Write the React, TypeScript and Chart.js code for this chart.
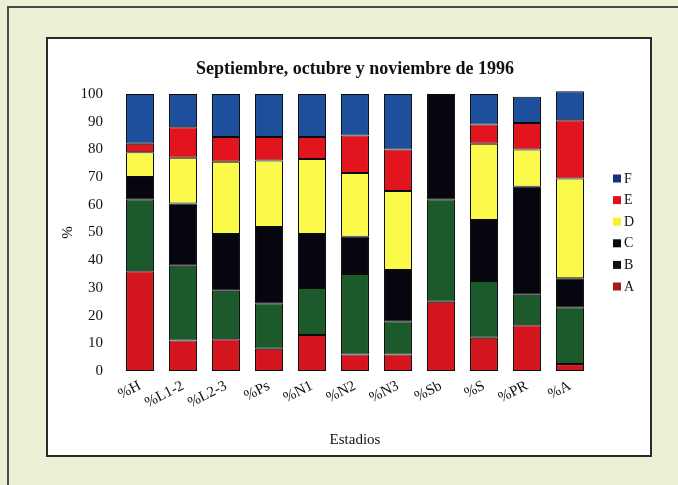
import React, { useEffect, useRef } from "react";
import { Chart, registerables } from "chart.js";

Chart.register(...registerables);

const TITLE = "Septiembre, octubre y noviembre de 1996";
const X_TITLE = "Estadios";
const Y_TITLE = "%";
const categories = ["%H", "%L1-2", "%L2-3", "%Ps", "%N1", "%N2", "%N3", "%Sb", "%S", "%PR", "%A"];
const seriesNames = ["A", "B", "C", "D", "E", "F"];
const valuesA = [36, 11, 11.5, 8, 13, 6, 6, 25, 12, 16.5, 2.5];
const valuesB = [26, 27, 17.5, 16.5, 17, 29, 12, 37, 20.5, 11, 20.5];
const valuesC = [8, 22.5, 20.5, 27.5, 19.5, 13.5, 18.5, 38, 22, 39, 10.5];
const valuesD = [9, 16.5, 26, 24, 27, 23, 28.5, null, 27.5, 13.5, 36];
const valuesE = [3, 11, 9, 8.5, 8, 13.5, 15, null, 7, 9.5, 21];
const valuesF = [18, 12, 15.5, 15.5, 15.5, 15, 20, null, 11, 9.5, 10.5];
const yTicks = [0, 10, 20, 30, 40, 50, 60, 70, 80, 90, 100];

const barColors = ["#d3161e", "#1c5a2c", "#06060f", "#fbf94a", "#e2141e", "#1d4f9c"];
const legendColors = ["#a81a1a", "#0c140e", "#0a0a0a", "#f6f030", "#e0101c", "#1a2e82"];

const FONT = '"Liberation Serif", "Times New Roman", serif';

const overlay = {
  id: "overlay",
  afterDraw(chart: any) {
    const { ctx, chartArea } = chart;
    ctx.save();
    ctx.fillStyle = "#111";
    ctx.font = `bold 18px ${FONT}`;
    ctx.textAlign = "center";
    ctx.textBaseline = "middle";
    ctx.fillText(TITLE, (chartArea.left + chartArea.right) / 2, chartArea.top - 25);

    const spacing = 21.6;
    const cy = (chartArea.top + chartArea.bottom) / 2;
    const n = seriesNames.length;
    const x0 = chartArea.right + 21.5;
    ctx.font = `14px ${FONT}`;
    ctx.textAlign = "left";
    for (let k = 0; k < n; k++) {
      const i = n - 1 - k;
      const y = cy - ((n - 1) / 2) * spacing + k * spacing;
      ctx.fillStyle = legendColors[i];
      ctx.fillRect(x0, y - 4, 8, 8);
      ctx.fillStyle = "#111";
      ctx.fillText(seriesNames[i], x0 + 11, y + 0.5);
    }
    ctx.restore();
  },
};

export default function App() {
  const ref = useRef<HTMLCanvasElement | null>(null);
  useEffect(() => {
    if (!ref.current) return;
    const all = [valuesA, valuesB, valuesC, valuesD, valuesE, valuesF];
    const chart = new Chart(ref.current, {
      type: "bar",
      data: {
        labels: categories,
        datasets: all.map((d, i) => ({
          label: seriesNames[i],
          data: d,
          backgroundColor: barColors[i],
          borderColor: "#0a0a0a",
          borderWidth: 1,
          borderSkipped: false,
          categoryPercentage: 1,
          barPercentage: 0.65,
          clip: false as any,
        })),
      },
      options: {
        animation: false,
        responsive: false,
        devicePixelRatio: 1,
        layout: { padding: { top: 55, right: 58.5, left: 0, bottom: 0 } },
        plugins: {
          legend: { display: false },
          title: { display: false },
          tooltip: { enabled: false },
        },
        scales: {
          x: {
            stacked: true,
            grid: { display: false, drawTicks: false },
            border: { display: false },
            ticks: {
              color: "#111",
              font: { family: FONT, size: 15 },
              maxRotation: 27,
              minRotation: 27,
              autoSkip: false,
              padding: 6,
            },
            title: {
              display: true,
              text: X_TITLE,
              color: "#111",
              font: { family: FONT, size: 15 },
              padding: { top: 0, bottom: 6 },
            },
            afterFit: (s: any) => {
              s.height = 84;
            },
          },
          y: {
            stacked: true,
            min: 0,
            max: 100,
            grid: { display: false, drawTicks: false },
            border: { display: false },
            afterBuildTicks: (s: any) => {
              s.ticks = yTicks.map((v) => ({ value: v }));
            },
            ticks: {
              color: "#111",
              font: { family: FONT, size: 15 },
              padding: 15.5,
            },
            title: {
              display: true,
              text: Y_TITLE,
              color: "#111",
              font: { family: FONT, size: 15 },
              padding: { top: 11, bottom: 0 },
            },
            afterFit: (s: any) => {
              s.width = 70.5;
            },
          },
        },
      },
      plugins: [overlay],
    });
    return () => chart.destroy();
  }, []);

  return (
    <div style={{ position: "fixed", left: 0, top: 0, width: 678, height: 485, background: "#eef0d6", overflow: "hidden" }}>
      <div style={{ position: "absolute", left: 7, top: 6, width: 680, height: 2, background: "#4a4a48" }} />
      <div style={{ position: "absolute", left: 7, top: 6, width: 2, height: 490, background: "#4a4a48" }} />
      <div
        style={{
          position: "absolute",
          left: 46,
          top: 37,
          width: 606,
          height: 420,
          boxSizing: "border-box",
          border: "2px solid #2a2a2a",
          background: "#ffffff",
        }}
      >
        <canvas ref={ref} width={602} height={416} style={{ display: "block", width: 602, height: 416 }} />
      </div>
    </div>
  );
}
